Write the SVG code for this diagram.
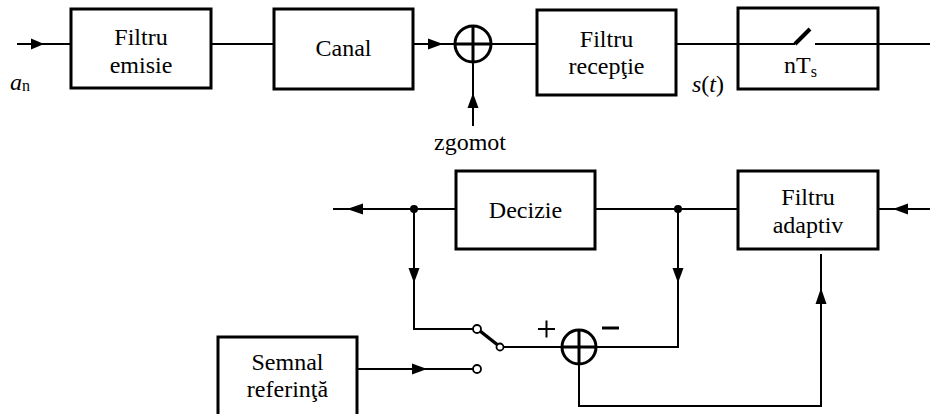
<svg xmlns="http://www.w3.org/2000/svg" width="930" height="414" viewBox="0 0 930 414">
<style>
.box{fill:#fff;stroke:#000;stroke-width:3}
.ln{fill:none;stroke:#000;stroke-width:2}
.arr{fill:#000;stroke:none}
.sum{fill:none;stroke:#000;stroke-width:3}
.ct{fill:#fff;stroke:#000;stroke-width:1.8}
.dot{fill:#000}
.t{font-family:"Liberation Serif",Tinos,"Times New Roman",Times,"Nimbus Roman","DejaVu Serif","Noto Serif",serif;font-size:24px;fill:#000}
.sub{font-size:16px}
.it{font-style:italic}
.c{text-anchor:middle}
</style>
<rect width="930" height="414" fill="#fff"/>
<g id="connectors">
<line class="ln" x1="17" y1="44" x2="71" y2="44"/>
<polygon class="arr" points="44,44 31,38.5 31,49.5"/>
<line class="ln" x1="211" y1="44" x2="274" y2="44"/>
<line class="ln" x1="413" y1="44" x2="455" y2="44"/>
<polygon class="arr" points="443,44 428,38.5 428,49.5"/>
<line class="ln" x1="473" y1="126" x2="473" y2="63"/>
<polygon class="arr" points="473,93 467.5,108 478.5,108"/>
<line class="ln" x1="492" y1="44" x2="537" y2="44"/>
<line class="ln" x1="676" y1="44" x2="738" y2="44"/>
<line class="ln" x1="878" y1="44" x2="930" y2="44"/>
<line class="ln" x1="333" y1="209" x2="456" y2="209"/>
<polygon class="arr" points="347,209 363,203.5 363,214.5"/>
<line class="ln" x1="595" y1="209" x2="738" y2="209"/>
<line class="ln" x1="878" y1="209" x2="930" y2="209"/>
<polygon class="arr" points="893,209 908,203.5 908,214.5"/>
<polyline class="ln" points="678,209 678,347 597,347"/>
<polygon class="arr" points="678,283 672.5,268 683.5,268"/>
<polyline class="ln" points="414,209 414,329 473,329"/>
<polygon class="arr" points="414,283 408.5,268 419.5,268"/>
<polyline class="ln" points="821,254 821,406 579,406 579,365"/>
<polygon class="arr" points="821,288 815.5,304 826.5,304"/>
<line class="ln" x1="357" y1="369" x2="473" y2="369"/>
<polygon class="arr" points="427,369 412,363.5 412,374.5"/>
<line class="ln" x1="500" y1="347" x2="561" y2="347"/>
<line x1="499" y1="346" x2="480" y2="331" stroke="#000" stroke-width="3.5"/>
<circle class="dot" cx="414" cy="209" r="4"/>
<circle class="dot" cx="678" cy="209" r="4"/>
<circle class="ct" cx="477" cy="329" r="4"/>
<circle class="ct" cx="477" cy="369" r="4"/>
<circle class="ct" cx="500" cy="347" r="3.5"/>
</g>
<g id="in-label"><text class="t" x="10" y="90"><tspan class="it">a</tspan><tspan class="sub" dy="1">n</tspan></text></g>
<g id="filtru-emisie"><rect class="box" x="71" y="9" width="140" height="79"/><text class="t c" x="141" y="45">Filtru</text><text class="t c" x="141" y="73">emisie</text></g>
<g id="canal"><rect class="box" x="274" y="9" width="139" height="80"/><text class="t c" x="343.5" y="56">Canal</text></g>
<g id="sum1"><circle class="sum" cx="473" cy="44" r="18"/><line class="sum" x1="455" y1="44" x2="491" y2="44"/><line class="sum" x1="473" y1="26" x2="473" y2="62"/></g>
<g id="zgomot"><text class="t c" x="470" y="150">zgomot</text></g>
<g id="filtru-receptie"><rect class="box" x="537" y="10" width="139" height="85"/><text class="t c" x="606.5" y="47">Filtru</text><text class="t c" x="606.5" y="74">recepţie</text></g>
<g id="st"><text class="t" x="692" y="92"><tspan class="it">s</tspan>(<tspan class="it">t</tspan>)</text></g>
<g id="esantionare"><rect class="box" x="738" y="8" width="140" height="81"/><line class="ln" x1="738" y1="44" x2="795" y2="44"/><line class="ln" x1="815" y1="44" x2="878" y2="44"/><line x1="795" y1="44" x2="810" y2="29" stroke="#000" stroke-width="4"/><text class="t" x="784" y="73">nT<tspan class="sub" dy="4">s</tspan></text></g>
<g id="decizie"><rect class="box" x="456" y="171" width="139" height="78"/><text class="t c" x="525.5" y="218">Decizie</text></g>
<g id="filtru-adaptiv"><rect class="box" x="738" y="171" width="140" height="78"/><text class="t c" x="808" y="205">Filtru</text><text class="t c" x="808" y="233">adaptiv</text></g>
<g id="sum2"><circle class="sum" cx="579" cy="347" r="17"/><line class="sum" x1="562" y1="347" x2="596" y2="347"/><line class="sum" x1="579" y1="330" x2="579" y2="364"/><line class="ln" x1="538" y1="329" x2="555" y2="329"/><line class="ln" x1="546.5" y1="320.5" x2="546.5" y2="337.5"/><line x1="602" y1="328" x2="619" y2="328" stroke="#000" stroke-width="3"/></g>
<g id="semnal-referinta"><rect class="box" x="218" y="337" width="139" height="80"/><text class="t c" x="287.5" y="370">Semnal</text><text class="t c" x="287.5" y="397">referinţă</text></g>
</svg>
